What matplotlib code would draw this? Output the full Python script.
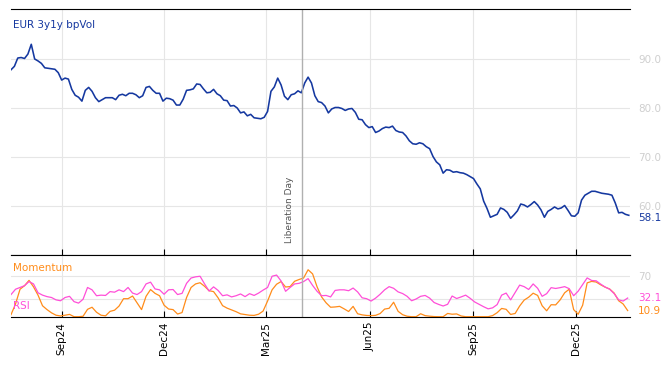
import matplotlib
matplotlib.use('Agg')
import pandas as pd
import matplotlib.dates as mdates
from matplotlib import pyplot as plt

# EUR 3y1y bp vol, sampled every ~3 days off the chart
vol_dates = pd.date_range('2024-07-18', '2026-01-17', periods=184)
vol_values = [
    87.8, 88.5, 90.2, 90.3, 90.1, 91.0, 93.0, 90.0, 89.6, 89.1,
    88.2, 88.1, 88.0, 87.9, 87.2, 85.7, 86.1, 85.9, 83.8, 82.6,
    82.2, 81.4, 83.6, 84.2, 83.4, 82.1, 81.3, 81.7, 82.1, 82.1,
    82.1, 81.7, 82.6, 82.8, 82.5, 83.0, 83.0, 82.7, 82.1, 82.5,
    84.2, 84.4, 83.6, 83.0, 83.0, 81.4, 82.0, 81.9, 81.6, 80.6,
    80.6, 81.8, 83.6, 83.7, 83.9, 84.9, 84.8, 83.9, 83.1, 83.2,
    83.8, 82.9, 82.5, 81.6, 81.5, 80.4, 80.5, 80.0, 79.0, 79.2,
    78.4, 78.7, 78.0, 77.9, 77.8, 78.1, 79.3, 83.4, 84.3, 86.1,
    84.7, 82.4, 81.7, 82.7, 82.9, 83.5, 83.1, 85.1, 86.3, 85.1,
    82.5, 81.3, 81.1, 80.4, 79.0, 79.8, 80.1, 80.1, 79.9, 79.5,
    79.8, 79.9, 79.1, 77.7, 77.6, 76.6, 76.0, 76.2, 75.0, 75.3,
    75.8, 76.1, 76.0, 76.3, 75.4, 75.1, 75.0, 74.3, 73.3, 72.7,
    72.6, 72.9, 72.7, 72.1, 71.7, 70.1, 69.0, 68.4, 66.7, 67.4,
    67.3, 66.9, 67.0, 66.8, 66.7, 66.4, 66.0, 65.6, 64.5, 63.5,
    61.0, 59.5, 57.7, 58.0, 58.3, 59.6, 59.3, 58.7, 57.5, 58.2,
    59.0, 60.4, 60.2, 59.8, 60.3, 60.9, 60.2, 59.2, 57.7, 58.9,
    59.3, 59.8, 59.4, 59.6, 60.1, 59.1, 58.0, 57.9, 58.6, 61.2,
    62.2, 62.6, 63.0, 63.0, 62.8, 62.6, 62.5, 62.4, 62.2, 60.6,
    58.6, 58.7, 58.3, 58.1,
]

# oscillators, sampled every ~4 days
osc_dates = pd.date_range('2024-07-18', '2026-01-16', periods=138)
rsi_values = [
    38, 47, 50, 53, 60, 56, 41, 37, 34.5, 33,
    29, 27.5, 33, 35, 26, 23.5, 30, 50, 46, 36,
    37, 36.5, 43, 42, 46, 43, 50, 40.5, 38, 43,
    56, 59, 47.5, 46, 38.5, 46, 46.5, 38, 40, 57,
    66, 68, 69, 56, 44, 51, 45, 36, 37.5, 34,
    36, 39, 34.5, 39.5, 36.5, 40.5, 45.5, 50, 69, 71,
    61, 43.5, 50, 56, 57, 60, 65, 53.5, 43.5, 36,
    36.5, 34, 45, 46, 46, 44.5, 49, 42.5, 32.5, 31,
    27, 32, 38.5, 46, 51.4, 48.6, 42.5, 39.7, 35, 27.5,
    30.5, 35, 36.5, 32, 24.5, 21.3, 18.6, 21.5, 35.5, 31.3,
    34, 37, 31.7, 25.5, 21.5, 17.4, 13.8, 15.5, 21, 37,
    40.5, 29, 41.5, 54, 51.4, 46.6, 56, 48.6, 35, 39.5,
    49.7, 48.3, 49.7, 51.4, 48, 36, 43.7, 55, 66.2, 61.8,
    61.3, 55.7, 50.7, 47, 39.5, 29, 27, 32.1,
]
momentum_values = [
    4, 22, 47, 53, 62, 51, 37, 19, 12.5, 7,
    3, 1.8, 3, 4.4, 0.5, 0.5, 1.2, 13, 16.5, 8,
    3, 2, 9.5, 11.5, 18.5, 31, 31, 35.5, 24, 12.5,
    35, 46.5, 40, 36, 20, 13.5, 12.5, 5, 7.5, 33,
    50, 56, 58, 52, 44.5, 43, 32.5, 19.2, 15, 12,
    9, 5.3, 4.1, 3, 2.7, 4.7, 10, 27, 46, 55.5,
    60, 50.8, 51.5, 60.5, 63.5, 66, 80, 73, 51, 34,
    24, 16.5, 17, 18, 13.8, 9.3, 18, 5.5, 3.6, 2.6,
    2.3, 2.8, 5.8, 13.4, 14.7, 25, 9.6, 3.9, 1.3, 0.5,
    0.5, 5.5, 2.3, 1.4, 0.7, 0.5, 0.5, 6, 4.7, 5.2,
    1.7, 0.5, 0.5, 0.5, 0.5, 0.5, 0.5, 2.4, 7.3, 14.5,
    13, 4.3, 6, 18.6, 28.6, 33.5, 40.3, 36.5, 19, 10.5,
    20.8, 20.5, 29, 41, 47, 12.5, 4.6, 20, 57.8, 60.3,
    59.2, 54.5, 50.5, 47.4, 40.5, 27.5, 22, 10.9,
]

liberation_day = pd.Timestamp('2025-04-02')
vol_ticks = [60, 70, 80, 90]
osc_grid = [30, 70]
osc_ticks = [70]

BLUE = '#1538a0'
ORANGE = '#ff8c1a'
PINK = '#ff4fd8'
GRID = '#e6e6e6'
LIGHT = '#cfcfcf'


def style_axis(ax):
    """ Common look: only top/bottom spines, light grid, right hand labels. """
    ax.spines['left'].set_visible(False)
    ax.spines['right'].set_visible(False)
    ax.grid(True, color=GRID, linewidth=0.8)
    ax.set_axisbelow(True)
    ax.yaxis.tick_right()
    ax.tick_params(axis='y', length=0, labelcolor=LIGHT, labelsize=7.5, pad=6)
    ax.tick_params(axis='x', direction='in', length=4, color='black')
    ax.xaxis.set_major_locator(mdates.MonthLocator(bymonth=[3, 6, 9, 12]))
    ax.xaxis.set_major_formatter(mdates.DateFormatter('%b%y'))


def last_value_label(ax, value, text, color, dy=0):
    """ Put the last value next to the right edge of the axis. """
    ax.annotate(text, xy=(1, value), xycoords=ax.get_yaxis_transform(),
                xytext=(6, dy), textcoords='offset points',
                ha='left', va='center', color=color, fontsize=7.5)


if __name__ == '__main__':
    fig = plt.figure(figsize=(6.68, 3.66), dpi=100)
    ax = fig.add_axes([0.0165, 0.3033, 0.9265, 0.6721])
    ax2 = fig.add_axes([0.0165, 0.1339, 0.9265, 0.1694], sharex=ax)

    # top panel
    style_axis(ax)
    ax.plot(vol_dates, vol_values, color=BLUE, linewidth=1.15)
    ax.set_ylim(50, 100.2)
    ax.set_yticks(vol_ticks)
    ax.set_yticklabels([f'{v:.1f}' for v in vol_ticks])
    ax.tick_params(axis='x', labelbottom=False)
    ax.axvline(liberation_day, color='#b0b0b0', linewidth=1)
    ax.annotate('Liberation Day', xy=(liberation_day, 52.4), xytext=(-6, 0),
                textcoords='offset points', rotation=90, ha='right', va='bottom',
                color='#555555', fontsize=6.5)
    ax.text(0.004, 0.935, 'EUR 3y1y bpVol', transform=ax.transAxes,
            color=BLUE, fontsize=7.5, va='center')
    last_value_label(ax, vol_values[-1], f'{vol_values[-1]:.1f}', BLUE, dy=-2)

    # bottom panel
    style_axis(ax2)
    ax2.plot(osc_dates, momentum_values, color=ORANGE, linewidth=0.9)
    ax2.plot(osc_dates, rsi_values, color=PINK, linewidth=0.9)
    ax2.set_ylim(0, 105)
    ax2.set_yticks(osc_grid)
    ax2.set_yticklabels([str(v) if v in osc_ticks else '' for v in osc_grid])
    ax2.axvline(liberation_day, color='#b0b0b0', linewidth=1)
    ax2.text(0.004, 0.79, 'Momentum', transform=ax2.transAxes,
             color=ORANGE, fontsize=7.5, va='center')
    ax2.text(0.004, 0.18, 'RSI', transform=ax2.transAxes,
             color=PINK, fontsize=7.5, va='center')
    last_value_label(ax2, rsi_values[-1], f'{rsi_values[-1]:.1f}', PINK)
    last_value_label(ax2, momentum_values[-1], f'{momentum_values[-1]:.1f}', ORANGE)
    ax2.tick_params(axis='x', labelsize=7.5, labelrotation=90)

    ax.set_xlim(pd.Timestamp('2024-07-18'), pd.Timestamp('2026-01-18'))

    fig.savefig('out.png', dpi=100)
